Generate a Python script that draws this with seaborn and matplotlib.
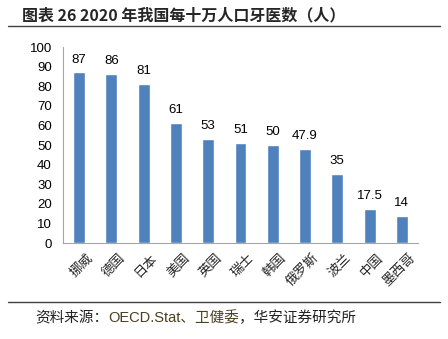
import matplotlib
matplotlib.use("Agg")
import matplotlib.pyplot as plt
import matplotlib.transforms as mtransforms
import seaborn as sns
import pandas as pd

categories = ["挪威", "德国", "日本", "美国", "英国", "瑞士", "韩国", "俄罗斯", "波兰", "中国", "墨西哥"]
values = [87, 86, 81, 61, 53, 51, 50, 47.9, 35, 17.5, 14]
value_labels = ["87", "86", "81", "61", "53", "51", "50", "47.9", "35", "17.5", "14"]
yticks = [0, 10, 20, 30, 40, 50, 60, 70, 80, 90, 100]

sns.set_theme(style="white")
plt.rcParams['font.family'] = ['Liberation Sans', 'Noto Sans CJK SC', 'DejaVu Sans']

df = pd.DataFrame({"country": categories, "value": values})

fig = plt.figure(figsize=(4.48, 3.39), dpi=100)
ax = fig.add_axes([63/448, 1-243/339, (418-63)/448, (243-47)/339])
sns.barplot(data=df, x="country", y="value", color="#4F81BD", saturation=1, width=0.37, ax=ax)

ax.set_ylim(0, 100)
ax.set_yticks(yticks)
ax.set_yticklabels([str(t) for t in yticks], fontsize=9.5, color="black")
ax.set_xlabel("")
ax.set_ylabel("")
ax.tick_params(axis="y", length=0, pad=8)
ax.tick_params(axis="x", length=0, pad=6)
offset = mtransforms.ScaledTranslation(5/72, 0, fig.dpi_scale_trans)
for lab in ax.get_xticklabels():
    lab.set_rotation(45)
    lab.set_ha("right")
    lab.set_va("top")
    lab.set_rotation_mode("anchor")
    lab.set_fontfamily(['Noto Sans CJK SC'])
    lab.set_fontsize(9.5)
    lab.set_transform(lab.get_transform() + offset)
for s in ["top", "right"]:
    ax.spines[s].set_visible(False)
for s in ["left", "bottom"]:
    ax.spines[s].set_color("#A6A6A6")
    ax.spines[s].set_linewidth(0.8)

for p, lbl in zip(ax.patches, value_labels):
    ax.annotate(lbl, (p.get_x() + p.get_width()/2, p.get_height()),
                xytext=(0, 5), textcoords="offset points", ha="center", va="bottom",
                fontsize=9.5, color="black")

fig.text(22/448, 1-15/339, "图表 26 2020 年我国每十万人口牙医数（人）", fontsize=11.5, fontweight="bold",
         va="center", ha="left", family=['Noto Sans CJK SC'])
fig.add_artist(plt.Line2D([8/448, 440/448], [1-26/339, 1-26/339], color="#404040", linewidth=1))
fig.add_artist(plt.Line2D([8/448, 440/448], [1-302/339, 1-302/339], color="#404040", linewidth=1))

fs = 10.5
t1 = fig.text(35/448, 1-318/339, "资料来源：", fontsize=fs, va="center", ha="left",
              family=['Noto Sans CJK SC'], color="#222222")
fig.canvas.draw()
bb = t1.get_window_extent()
x2 = bb.x1 / fig.bbox.width
t2 = fig.text(x2, 1-318/339, "OECD.Stat、卫健委", fontsize=fs, va="center", ha="left",
              family=['Liberation Sans', 'Noto Sans CJK SC'], color="#4A3F1E")
fig.canvas.draw()
bb2 = t2.get_window_extent()
x3 = bb2.x1 / fig.bbox.width
fig.text(x3, 1-318/339, "，华安证券研究所", fontsize=fs, va="center", ha="left",
         family=['Noto Sans CJK SC'], color="#222222")

fig.savefig("out.png", dpi=100)
